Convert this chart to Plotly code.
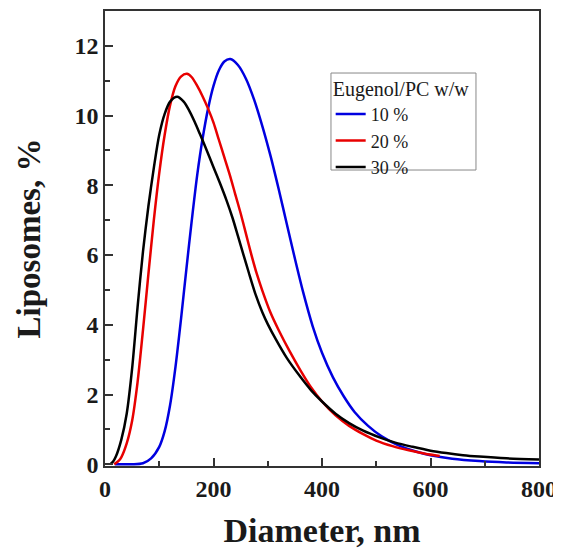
import plotly.graph_objects as go

# Eugenol/PC 10 %
x_10 = [18, 50, 70, 85, 100, 110, 120, 130, 140, 150, 160, 170, 180, 190, 200, 210, 220, 231, 245, 260, 275, 290, 305, 320, 335, 350, 365, 383, 400, 420, 440, 460, 485, 510, 540, 570, 600, 640, 690, 740, 800]
y_10 = [0, 0, 0.03, 0.17, 0.5, 0.95, 1.7, 2.8, 4.15, 5.6, 7.0, 8.3, 9.35, 10.2, 10.85, 11.3, 11.55, 11.62, 11.45, 11.05, 10.45, 9.7, 8.85, 7.9, 6.9, 5.9, 4.95, 3.95, 3.2, 2.5, 1.95, 1.5, 1.1, 0.8, 0.55, 0.38, 0.26, 0.16, 0.09, 0.05, 0.03]

# Eugenol/PC 20 %
x_20 = [17, 25, 30, 40, 50, 60, 70, 80, 90, 100, 110, 120, 130, 140, 151, 160, 170, 180, 190, 200, 210, 220, 230, 240, 250, 260, 270, 280, 290, 305, 320, 340, 360, 380, 400, 425, 450, 475, 500, 530, 560, 590, 617]
y_20 = [0, 0.1, 0.2, 0.6, 1.25, 2.35, 3.85, 5.45, 7.0, 8.35, 9.45, 10.3, 10.85, 11.12, 11.2, 11.1, 10.85, 10.55, 10.2, 9.8, 9.3, 8.8, 8.3, 7.75, 7.2, 6.6, 6.0, 5.45, 4.98, 4.35, 3.85, 3.25, 2.7, 2.2, 1.8, 1.4, 1.1, 0.87, 0.68, 0.52, 0.4, 0.3, 0.24]

# Eugenol/PC 30 %
x_30 = [10, 15, 20, 30, 40, 50, 60, 70, 80, 90, 100, 110, 120, 133, 145, 155, 165, 175, 185, 200, 212, 224, 235, 245, 255, 265, 278, 290, 300, 315, 335, 358, 380, 400, 425, 450, 475, 506, 535, 567, 600, 629, 660, 690, 740, 800]
y_30 = [0, 0.08, 0.22, 0.7, 1.45, 2.75, 4.5, 6.1, 7.4, 8.5, 9.45, 10.05, 10.4, 10.54, 10.4, 10.15, 9.83, 9.47, 9.1, 8.52, 8.06, 7.57, 7.07, 6.55, 6.02, 5.5, 4.85, 4.36, 4.02, 3.58, 3.05, 2.55, 2.12, 1.8, 1.45, 1.18, 0.97, 0.77, 0.62, 0.5, 0.39, 0.32, 0.26, 0.22, 0.17, 0.14]

series = [
    ("10 %", x_10, y_10, "#0000e0"),
    ("20 %", x_20, y_20, "#e80000"),
    ("30 %", x_30, y_30, "#000000"),
]

x_ticks = [0, 200, 400, 600, 800]
y_ticks = [0, 2, 4, 6, 8, 10, 12]

fig = go.Figure()
for name, xs, ys, col in series:
    fig.add_trace(go.Scatter(x=xs, y=ys, mode="lines", name=name,
                             line=dict(color=col, width=2.5, shape="spline", smoothing=0.8)))

axis_common = dict(
    showline=True, linecolor="#333333", linewidth=1.5, mirror=True,
    ticks="inside", ticklen=8, tickwidth=1.5, tickcolor="#333333",
    showgrid=False, zeroline=False, automargin=False,
    tickfont=dict(family="Liberation Serif", size=24, color="#1a1a1a", weight="bold"),
)

fig.update_xaxes(range=[0, 800], tickvals=x_ticks,
                 minor=dict(ticks="inside", ticklen=5, tickwidth=1.5, tickcolor="#333333", dtick=100, tick0=0),
                 title=dict(text="Diameter, nm", standoff=18,
                            font=dict(family="Liberation Serif", size=34, color="#1a1a1a", weight="bold")),
                 **axis_common)
fig.update_yaxes(range=[-0.05, 13], tickvals=y_ticks,
                 minor=dict(ticks="inside", ticklen=5, tickwidth=1.5, tickcolor="#333333", dtick=1, tick0=0),
                 title=dict(text="Liposomes, %", standoff=24,
                            font=dict(family="Liberation Serif", size=33, color="#1a1a1a", weight="bold")),
                 **axis_common)

# legend frame drawn as a shape so its size matches the reference box
fig.add_shape(type="rect", xref="paper", yref="paper",
              x0=0.5207, x1=0.8548, y0=0.6505, y1=0.8637,
              line=dict(color="#888888", width=1), fillcolor="white", layer="below")

# page body has an 8 px margin: figure is sized/offset so the plot area lands on the reference's
fig.update_layout(
    width=553, height=547,
    margin=dict(l=97, r=22, t=3, b=89),
    plot_bgcolor="rgba(0,0,0,0)", paper_bgcolor="white",
    legend=dict(
        title=dict(text="Eugenol/PC w/w", font=dict(family="Liberation Serif", size=20, color="#1a1a1a")),
        font=dict(family="Liberation Serif", size=18, color="#1a1a1a"),
        x=0.52, y=0.8705, xanchor="left", yanchor="top",
        borderwidth=0, bgcolor="rgba(0,0,0,0)",
        tracegroupgap=0, itemwidth=30,
    ),
)

fig.write_html("out.html")
